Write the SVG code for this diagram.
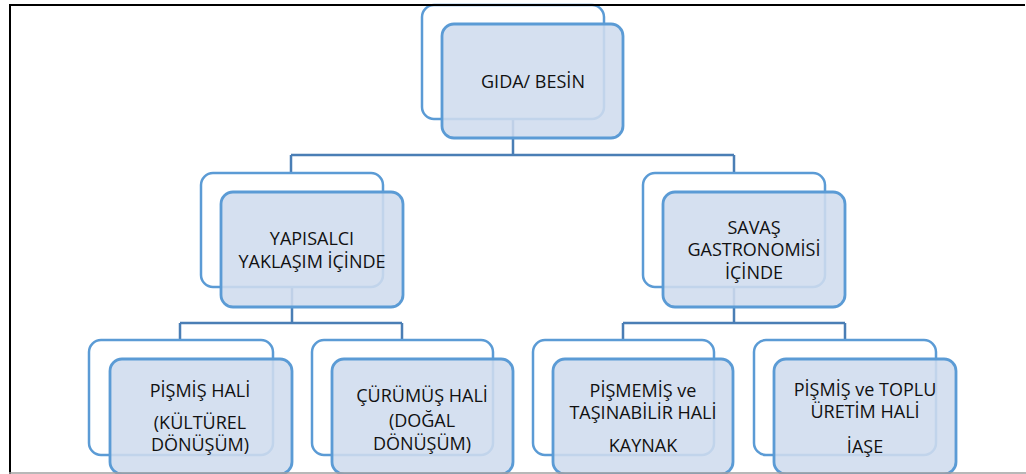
<svg xmlns="http://www.w3.org/2000/svg" width="1026" height="474" viewBox="0 0 1026 474">
<style>
.back{fill:#ffffff;stroke:#5b9bd5;stroke-width:2.5}
.front{fill:#cfdcee;fill-opacity:0.88;stroke:#5b9bd5;stroke-width:2.8}
.conn{fill:none;stroke:#4a7eb5;stroke-width:2.5}
text{font-family:"Open Sans","Liberation Sans",sans-serif;font-size:18px;fill:#111111;text-anchor:middle}
</style>
<rect x="0" y="0" width="1026" height="474" fill="#ffffff"/>
<g id="connectors">
<path class="conn" d="M513,119 V155 M291,155 H734 M291,155 V173 M734,155 V173"/>
<path class="conn" d="M292,287 V323 M180,323 H402 M180,323 V340 M402,323 V340"/>
<path class="conn" d="M734,287 V323 M623,323 H845 M623,323 V340 M845,323 V340"/>
</g>
<g id="node-gida">
<rect class="back" x="422" y="5" width="182" height="114" rx="12"/>
<rect class="front" x="442" y="24" width="181" height="114" rx="12"/>
<text x="533" y="88">GIDA/ BESİN</text>
</g>
<g id="node-yapisalci">
<rect class="back" x="201" y="173" width="182" height="114" rx="12"/>
<rect class="front" x="221" y="192" width="182" height="115" rx="12"/>
<text x="312" y="245">YAPISALCI</text>
<text x="312" y="268">YAKLAŞIM İÇİNDE</text>
</g>
<g id="node-savas">
<rect class="back" x="643" y="173" width="182" height="114" rx="12"/>
<rect class="front" x="663" y="192" width="182" height="115" rx="12"/>
<text x="754" y="234">SAVAŞ</text>
<text x="754" y="256">GASTRONOMİSİ</text>
<text x="754" y="279">İÇİNDE</text>
</g>
<g id="node-pismis">
<rect class="back" x="89" y="340" width="184" height="115" rx="12"/>
<rect class="front" x="110" y="359" width="182" height="115" rx="12"/>
<text x="200" y="397">PİŞMİŞ HALİ</text>
<text x="200" y="429">(KÜLTÜREL</text>
<text x="200" y="451">DÖNÜŞÜM)</text>
</g>
<g id="node-curumus">
<rect class="back" x="312" y="340" width="181" height="115" rx="12"/>
<rect class="front" x="332" y="359" width="181" height="115" rx="12"/>
<text x="422" y="402">ÇÜRÜMÜŞ HALİ</text>
<text x="422" y="427">(DOĞAL</text>
<text x="422" y="450">DÖNÜŞÜM)</text>
</g>
<g id="node-pismemis">
<rect class="back" x="533" y="340" width="181" height="115" rx="12"/>
<rect class="front" x="553" y="359" width="180" height="115" rx="12"/>
<text x="643" y="397">PİŞMEMİŞ ve</text>
<text x="643" y="419">TAŞINABİLİR HALİ</text>
<text x="643" y="452">KAYNAK</text>
</g>
<g id="node-iase">
<rect class="back" x="754" y="340" width="182" height="115" rx="12"/>
<rect class="front" x="774" y="359" width="182" height="115" rx="12"/>
<text x="865" y="396">PİŞMİŞ ve TOPLU</text>
<text x="865" y="418">ÜRETİM HALİ</text>
<text x="865" y="453">İAŞE</text>
</g>
<g id="frame">
<path d="M9,5 H1025 M10,5 V474" fill="none" stroke="#000000" stroke-width="2"/>
<path d="M9,473 H1026" fill="none" stroke="#a0a0a0" stroke-width="1.5"/>
</g>
</svg>
